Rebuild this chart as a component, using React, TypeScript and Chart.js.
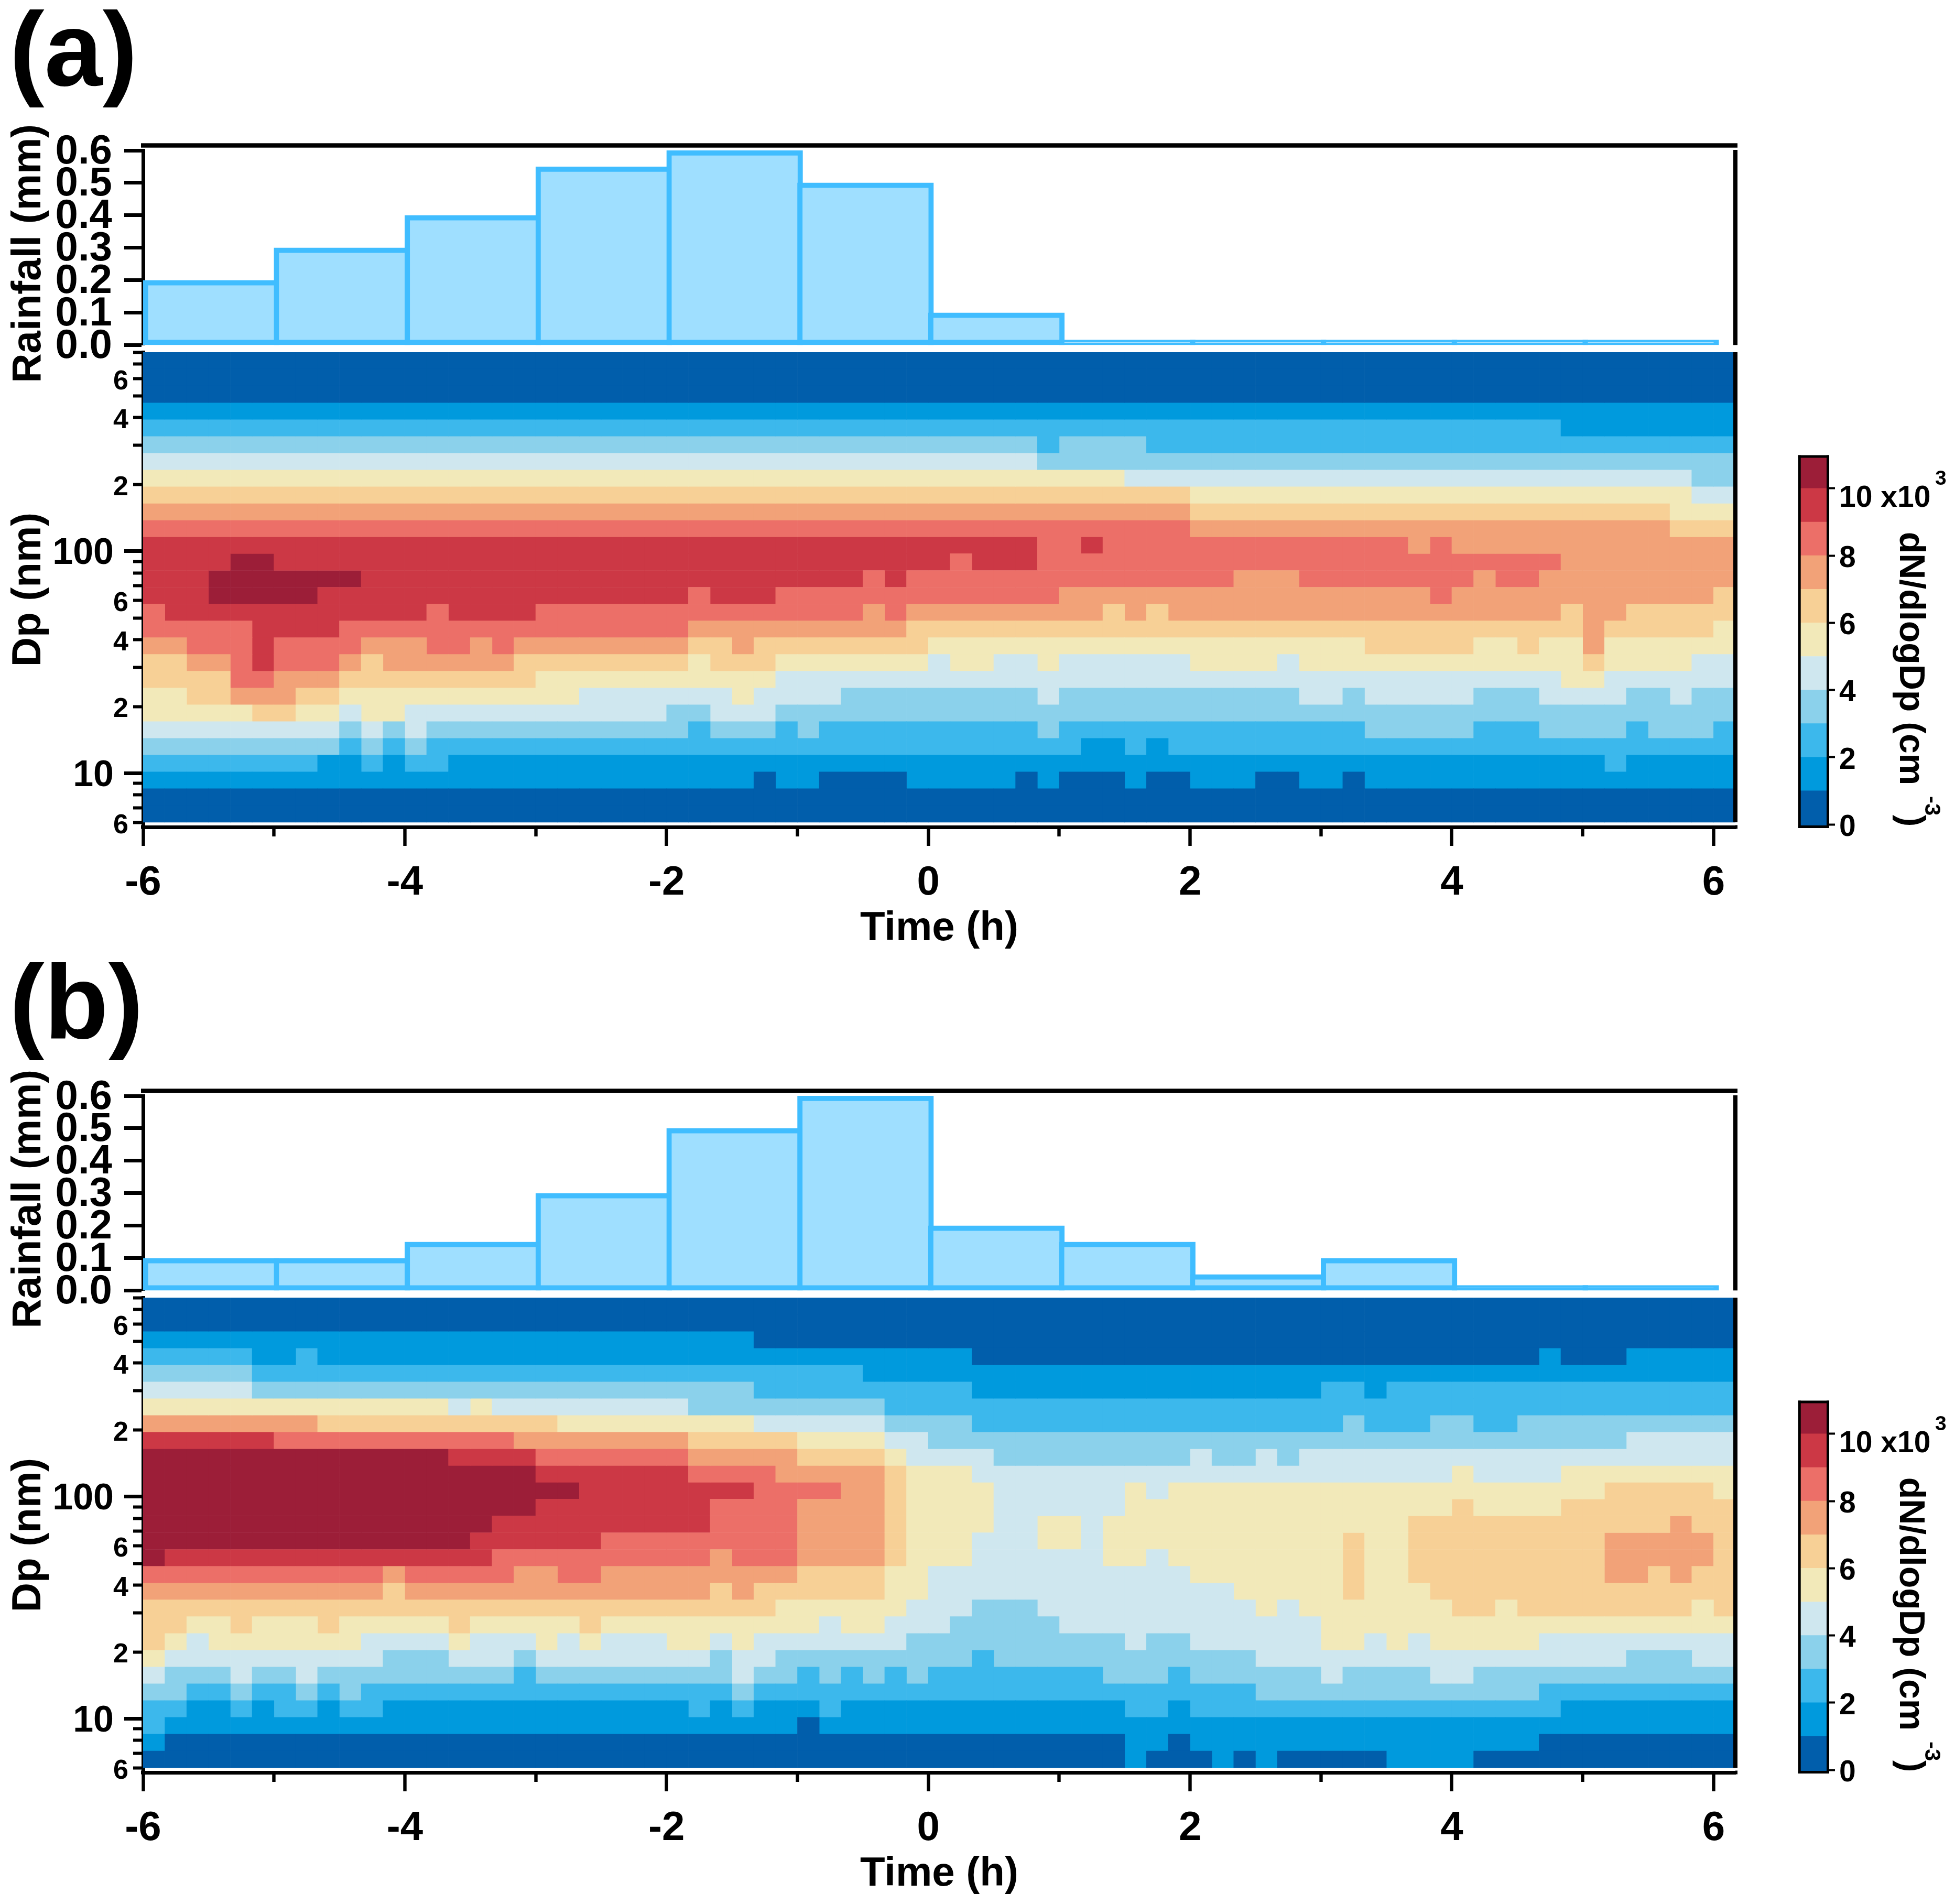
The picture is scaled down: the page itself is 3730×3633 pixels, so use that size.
import React, { useEffect, useRef } from "react";
import { Chart, registerables } from "chart.js";

Chart.register(...registerables);
Chart.defaults.font.family = '"Liberation Sans", Arial, sans-serif';
Chart.defaults.font.weight = "bold";
Chart.defaults.color = "#000";

// ---------- data ----------
const RAIN_HOURS = [-6, -5, -4, -3, -2, -1, 0, 1, 2, 3, 4, 5];
const RAIN_A = [0.2, 0.3, 0.4, 0.55, 0.6, 0.5, 0.1, 0, 0, 0, 0, 0];
const RAIN_B = [0.1, 0.1, 0.15, 0.3, 0.5, 0.6, 0.2, 0.15, 0.05, 0.1, 0, 0];
const RAIN_TICKS = [0, 0.1, 0.2, 0.3, 0.4, 0.5, 0.6];

const TIME_MAJOR = [-6, -4, -2, 0, 2, 4, 6];
const TIME_MINOR = [-5, -3, -1, 1, 3, 5];
const DP_MAJOR = [10, 100];
const DP_MINOR = [6, 7, 8, 9, 20, 30, 40, 50, 60, 70, 80, 90, 200, 300, 400, 500, 600, 700, 789];
const DP_LABELLED: Record<number, string> = { 6: "6", 20: "2", 40: "4", 60: "6", 200: "2", 400: "4", 600: "6" };
const CBAR_TICKS = [0, 2, 4, 6, 8, 10];
const CBAR_EDGES = [-0.07, 1, 2, 3, 4, 5, 6, 7, 8, 9, 10, 10.95];
const LEVEL_COLORS = ["#015EAB", "#009ADD", "#3CB8EC", "#8BD1EB", "#CFE7EF", "#F2E9B9", "#F7D096", "#F2A278", "#EC6F68", "#CC3845", "#9C1E38"];

// Each row (largest Dp first): pairs of colour level (x10^3 cm-3) and the column where that level stops.
const HEAT_A: number[][] = [
  [0, 73], [0, 73], [0, 73], [1, 73],
  [2, 65, 1, 73],
  [3, 41, 2, 42, 3, 46, 2, 73],
  [4, 41, 3, 73],
  [5, 45, 4, 71, 3, 73],
  [6, 48, 5, 71, 4, 73],
  [7, 48, 6, 70, 5, 73],
  [8, 48, 7, 70, 6, 73],
  [9, 41, 8, 43, 9, 44, 8, 58, 7, 59, 8, 60, 7, 73],
  [9, 4, 10, 6, 9, 37, 8, 38, 9, 41, 8, 65, 7, 73],
  [9, 3, 10, 10, 9, 33, 8, 34, 9, 35, 8, 50, 7, 53, 8, 61, 7, 62, 8, 64, 7, 73],
  [9, 3, 10, 8, 9, 25, 8, 26, 9, 29, 8, 42, 7, 59, 8, 60, 7, 72, 6, 73],
  [8, 1, 9, 13, 8, 14, 9, 18, 8, 33, 7, 34, 8, 35, 7, 44, 6, 45, 7, 46, 6, 47, 7, 65, 6, 66, 7, 68, 6, 73],
  [8, 5, 9, 9, 8, 25, 7, 35, 6, 66, 7, 67, 6, 72, 5, 73],
  [7, 2, 8, 5, 9, 6, 8, 10, 7, 13, 8, 15, 7, 16, 8, 17, 7, 25, 6, 27, 7, 28, 6, 36, 5, 56, 6, 61, 5, 63, 6, 64, 5, 66, 7, 67, 5, 73],
  [6, 2, 7, 4, 8, 5, 9, 6, 8, 9, 7, 10, 6, 11, 7, 17, 6, 25, 5, 26, 6, 29, 5, 36, 4, 37, 5, 39, 4, 41, 5, 42, 4, 48, 5, 52, 4, 53, 5, 66, 6, 67, 5, 71, 4, 73],
  [6, 4, 8, 6, 7, 9, 6, 18, 5, 29, 4, 65, 5, 67, 4, 73],
  [5, 2, 6, 4, 7, 7, 6, 9, 5, 20, 4, 27, 5, 28, 4, 32, 3, 41, 4, 42, 3, 53, 4, 55, 3, 56, 4, 61, 3, 64, 4, 68, 3, 70, 4, 71, 3, 73],
  [5, 5, 6, 7, 5, 9, 4, 10, 5, 12, 4, 24, 3, 26, 4, 29, 3, 73],
  [4, 9, 3, 10, 4, 11, 3, 12, 4, 13, 3, 25, 2, 26, 3, 29, 2, 30, 3, 31, 2, 41, 3, 42, 2, 56, 3, 61, 2, 64, 3, 68, 2, 69, 3, 72, 2, 73],
  [3, 9, 2, 10, 3, 11, 2, 12, 3, 13, 2, 43, 1, 45, 2, 46, 1, 47, 2, 73],
  [2, 8, 1, 10, 2, 11, 1, 12, 2, 14, 1, 67, 2, 68, 1, 73],
  [1, 28, 0, 29, 1, 31, 0, 35, 1, 40, 0, 41, 1, 42, 0, 45, 1, 46, 0, 48, 1, 51, 0, 53, 1, 55, 0, 56, 1, 73],
  [0, 73], [0, 73],
];

const HEAT_B: number[][] = [
  [0, 73], [0, 73],
  [1, 28, 0, 73],
  [2, 5, 1, 7, 2, 8, 1, 38, 0, 64, 1, 65, 0, 68, 1, 73],
  [3, 5, 2, 33, 1, 73],
  [4, 5, 3, 28, 2, 38, 1, 54, 2, 56, 1, 57, 2, 73],
  [5, 14, 4, 15, 5, 16, 4, 25, 3, 34, 2, 73],
  [7, 8, 6, 19, 5, 28, 4, 34, 3, 38, 2, 55, 3, 56, 2, 59, 3, 61, 2, 63, 3, 73],
  [9, 6, 8, 17, 7, 25, 6, 30, 5, 34, 4, 36, 3, 68, 4, 73],
  [10, 14, 9, 18, 8, 25, 7, 30, 6, 34, 5, 35, 4, 39, 3, 48, 4, 49, 3, 51, 4, 52, 3, 53, 4, 73],
  [10, 18, 9, 25, 8, 29, 7, 34, 6, 35, 5, 38, 4, 60, 5, 61, 4, 65, 5, 73],
  [10, 20, 9, 28, 8, 32, 7, 34, 6, 35, 5, 39, 4, 45, 5, 46, 4, 47, 5, 67, 6, 72, 5, 73],
  [10, 18, 9, 26, 8, 30, 7, 34, 6, 35, 5, 39, 4, 45, 5, 60, 6, 61, 5, 65, 6, 73],
  [10, 16, 9, 26, 8, 30, 7, 34, 6, 35, 5, 39, 4, 41, 5, 43, 4, 44, 5, 58, 6, 70, 7, 71, 6, 73],
  [10, 15, 9, 21, 8, 30, 7, 34, 6, 35, 5, 38, 4, 41, 5, 43, 4, 44, 5, 55, 6, 56, 5, 58, 6, 67, 7, 72, 6, 73],
  [10, 1, 9, 16, 8, 26, 7, 27, 8, 30, 7, 34, 6, 35, 5, 38, 4, 44, 5, 46, 4, 47, 5, 55, 6, 56, 5, 58, 6, 67, 7, 72, 6, 73],
  [8, 11, 7, 12, 8, 17, 7, 19, 8, 21, 7, 30, 6, 34, 5, 36, 4, 48, 5, 55, 6, 56, 5, 58, 6, 67, 7, 69, 6, 70, 7, 71, 6, 73],
  [7, 11, 6, 12, 7, 26, 6, 27, 7, 28, 6, 34, 5, 36, 4, 50, 5, 55, 6, 56, 5, 59, 6, 73],
  [6, 29, 5, 35, 4, 38, 3, 41, 4, 51, 5, 52, 4, 53, 5, 60, 6, 62, 5, 63, 6, 71, 5, 72, 6, 73],
  [6, 2, 5, 4, 6, 5, 5, 8, 6, 9, 5, 14, 6, 15, 5, 20, 6, 21, 5, 31, 4, 32, 5, 34, 4, 37, 3, 42, 4, 54, 5, 73],
  [6, 1, 5, 2, 4, 3, 5, 10, 4, 14, 5, 15, 4, 18, 5, 19, 4, 20, 5, 21, 4, 24, 5, 26, 4, 27, 5, 28, 4, 35, 3, 45, 4, 46, 3, 48, 4, 54, 5, 56, 4, 57, 5, 58, 4, 59, 5, 64, 4, 73],
  [5, 1, 4, 11, 3, 14, 4, 17, 3, 18, 4, 26, 3, 27, 4, 29, 3, 38, 2, 39, 3, 51, 4, 68, 3, 71, 4, 73],
  [4, 1, 3, 4, 4, 5, 3, 7, 4, 8, 3, 17, 2, 18, 3, 27, 4, 28, 3, 30, 2, 31, 3, 32, 2, 33, 3, 34, 2, 35, 3, 36, 2, 44, 3, 47, 2, 48, 3, 54, 4, 55, 3, 59, 4, 61, 3, 73],
  [3, 2, 2, 4, 3, 5, 2, 7, 3, 8, 2, 9, 3, 10, 2, 27, 3, 28, 2, 51, 3, 64, 2, 73],
  [2, 2, 1, 4, 2, 5, 1, 6, 2, 8, 1, 9, 2, 11, 1, 25, 2, 26, 1, 27, 2, 28, 1, 31, 2, 32, 1, 45, 2, 47, 1, 48, 2, 65, 1, 73],
  [2, 1, 1, 30, 0, 31, 1, 73],
  [1, 1, 0, 45, 1, 47, 0, 48, 1, 64, 0, 73],
  [0, 45, 1, 46, 0, 49, 1, 50, 0, 51, 1, 52, 0, 57, 1, 61, 0, 73],
];

// ---------- layout ----------
const PANEL_DY = 1804;
const AREA_L = 273;
const AREA_R = 3311;
const HOUR_PX = 249.7;
const COL_PX = (AREA_R - AREA_L) / 73;
const X_MIN = -6;
const X_MAX = 6 + 1 / 6;
const DP_LOW = 6.015;
const DP_HIGH = 789;
const DP_AXIS_MIN = 5.728;
const BLUE_LINE = "#40BDFF";
const BLUE_FILL = "#9FDFFF";

const zeroPadding = (s: any) => {
  s.paddingTop = 0; s.paddingBottom = 0; s.paddingLeft = 0; s.paddingRight = 0;
  // Overlaid axes have a zero-sized box: keep their labels from being clipped to it.
  s._computeLabelArea = () => undefined;
};
// Moves the tick labels of a vertical axis down by dy(label) pixels.
const shiftLabels = (s: any, dy?: (label: any) => number) => {
  if (!dy || s._labelsShifted) return;
  const compute = s._computeLabelItems;
  s._computeLabelItems = function (area: any) {
    const items = compute.call(this, area);
    items.forEach((it: any) => { it.textOffset += dy(it.label); });
    return items;
  };
  s._labelsShifted = true;
};
const fitW = (w: number, dy?: (label: any) => number) => (s: any) => { s.width = w; zeroPadding(s); shiftLabels(s, dy); };
const fitH = (h: number) => (s: any) => { s.height = h; zeroPadding(s); };
const setTicks = (vals: number[]) => (s: any) => { s.ticks = vals.map((value) => ({ value })); };

const rectsPlugin = (rects: number[][], top: number) => ({
  id: "frameRects",
  afterDraw(chart: any) {
    const ctx = chart.ctx;
    ctx.save();
    ctx.fillStyle = "#000";
    rects.forEach(([x, y, w, h]) => ctx.fillRect(x, y - top, w, h));
    ctx.restore();
  },
});

// Superscripts of the colour bar: "3" of x10^3 and "-3" of cm^-3.
const superscriptPlugin = (left: number, top: number) => ({
  id: "cbarSuperscripts",
  afterDraw(chart: any) {
    const ctx = chart.ctx;
    ctx.save();
    ctx.fillStyle = "#000";
    ctx.textAlign = "left";
    ctx.textBaseline = "alphabetic";
    ctx.font = 'bold 39px "Liberation Sans", Arial, sans-serif';
    ctx.fillText("3", 3692 - left, 925 - top);
    ctx.translate(3673 - left, 1519 - top);
    ctx.rotate(Math.PI / 2);
    ctx.font = 'bold 42px "Liberation Sans", Arial, sans-serif';
    ctx.fillText("-3", 0, 0);
    ctx.restore();
  },
});

function rainConfig(values: number[], canvasTop: number, frameY: number): any {
  return {
    type: "bar",
    data: {
      datasets: [{
        data: RAIN_HOURS.map((h, i) => ({ x: h + 0.5 + 5 / HOUR_PX, y: values[i] })),
        backgroundColor: BLUE_FILL,
        borderColor: BLUE_LINE,
        borderWidth: 10,
        borderSkipped: false,
        barThickness: HOUR_PX + 10,
        minBarLength: 10,
        grouped: false,
      }],
    },
    options: {
      animation: false, responsive: false, devicePixelRatio: 1,
      layout: { padding: { left: 0, right: 3400 - AREA_R, top: 87, bottom: 101.3 } },
      plugins: { legend: { display: false }, tooltip: { enabled: false } },
      scales: {
        x: { type: "linear", display: false, min: X_MIN, max: X_MAX, offset: false, grid: { offset: false } },
        y: {
          type: "linear", position: "left", min: 0, max: 0.6, beginAtZero: false,
          afterBuildTicks: setTicks(RAIN_TICKS), afterFit: fitW(AREA_L, () => 3),
          border: { color: "#000", width: 7 },
          grid: { drawOnChartArea: false, tickLength: 36, tickWidth: 7, tickColor: "#000" },
          ticks: { autoSkip: false, padding: 23, font: { size: 78, weight: "bold" }, callback: (v: number) => v.toFixed(1) },
          title: { display: true, text: "Rainfall (mm) ", font: { size: 78, weight: "bold" }, padding: { top: 9, bottom: 0 } },
        },
      },
    },
    plugins: [rectsPlugin([[269, 273.3 + frameY, 3315 - 269, 8.4], [3307, 286 + frameY, 8, 372.3]], canvasTop)],
  };
}

function heatConfig(rows: number[][], canvasTop: number, frameY: number): any {
  const edge = (i: number) => DP_LOW * Math.pow(DP_HIGH / DP_LOW, i / rows.length);
  const cells: any[][] = LEVEL_COLORS.map(() => []);
  rows.forEach((runs, r) => {
    const lo = edge(rows.length - 1 - r);
    const hi = edge(rows.length - r);
    let col = 0;
    for (let i = 0; i < runs.length; i += 2) {
      for (; col < runs[i + 1]; col++) {
        cells[runs[i]].push({ x: X_MIN + (col + 0.5) / 6, y: [lo, hi] });
      }
    }
  });
  return {
    type: "bar",
    data: {
      datasets: cells.map((data, level) => ({
        label: String(level), data, backgroundColor: LEVEL_COLORS[level],
        barThickness: COL_PX, grouped: false, xAxisID: "x", yAxisID: "y",
      })),
    },
    options: {
      animation: false, responsive: false, devicePixelRatio: 1,
      layout: { padding: { left: 0, right: 3400 - AREA_R, top: 32, bottom: 81 } },
      plugins: { legend: { display: false }, tooltip: { enabled: false } },
      scales: {
        x: {
          type: "linear", position: "bottom", weight: 1, min: X_MIN, max: X_MAX, offset: false,
          afterBuildTicks: setTicks(TIME_MAJOR), afterFit: fitH(241),
          border: { color: "#000", width: 7 },
          grid: { offset: false, drawOnChartArea: false, tickLength: 36, tickWidth: 6.4, tickColor: "#000" },
          ticks: { autoSkip: false, maxRotation: 0, padding: 25, font: { size: 78, weight: "bold" }, callback: (v: number) => String(v) },
          title: { display: true, text: "Time (h)", font: { size: 78, weight: "bold" }, padding: { top: 0, bottom: 0 } },
        },
        x2: {
          axis: "x", type: "linear", position: "bottom", weight: 0, min: X_MIN, max: X_MAX, offset: false,
          afterBuildTicks: setTicks(TIME_MINOR), afterFit: fitH(0),
          border: { display: false },
          grid: { offset: false, drawOnChartArea: false, tickLength: 18, tickWidth: 6.4, tickColor: "#000" },
          ticks: { autoSkip: false, maxRotation: 0, callback: () => "" },
        },
        y: {
          type: "logarithmic", position: "left", weight: 1, min: DP_AXIS_MIN, max: DP_HIGH,
          afterBuildTicks: setTicks(DP_MAJOR), afterFit: fitW(AREA_L, () => 5),
          border: { color: "#000", width: 7 },
          grid: { drawOnChartArea: false, tickLength: 36, tickWidth: 7, tickColor: "#000" },
          ticks: { autoSkip: false, padding: 20, font: { size: 70, weight: "bold" }, callback: (v: number) => String(v) },
          title: { display: true, text: "Dp (nm)", font: { size: 78, weight: "bold" }, padding: { top: 9, bottom: 0 } },
        },
        y2: {
          axis: "y", type: "logarithmic", position: "left", weight: 0, min: DP_AXIS_MIN, max: DP_HIGH,
          afterBuildTicks: setTicks(DP_MINOR), afterFit: fitW(0, () => 6),
          border: { display: false },
          grid: { drawOnChartArea: false, tickLength: 19, tickWidth: 6, tickColor: "#000" },
          ticks: { autoSkip: false, padding: 9, font: { size: 52, weight: "bold" }, callback: (v: number) => DP_LABELLED[v] ?? "" },
        },
      },
    },
    plugins: [rectsPlugin([[3307, 672 + frameY, 8, 897], [3311, 1574.5 + frameY, 4, 7], [269, 1574.5 + frameY, 4, 7]], canvasTop)],
  };
}

function cbarConfig(canvasLeft: number, canvasTop: number, frameY: number): any {
  return {
    type: "bar",
    data: {
      labels: [""],
      datasets: LEVEL_COLORS.map((c, i) => ({
        data: [[CBAR_EDGES[i], CBAR_EDGES[i + 1]]],
        backgroundColor: c, barPercentage: 1, categoryPercentage: 1, grouped: false,
      })),
    },
    options: {
      animation: false, responsive: false, devicePixelRatio: 1,
      layout: { padding: { left: 33, right: 0, top: 51, bottom: 62.5 } },
      plugins: { legend: { display: false }, tooltip: { enabled: false } },
      scales: {
        x: { display: false },
        y: {
          type: "linear", position: "right", min: -0.07, max: 10.95, beginAtZero: false,
          afterBuildTicks: setTicks(CBAR_TICKS), afterFit: fitW(242, (label) => (label === "10 x10" ? 19 : 6)),
          border: { display: false },
          grid: { drawOnChartArea: false, tickLength: 13, tickWidth: 4, tickColor: "#000" },
          ticks: { autoSkip: false, padding: 8, font: { size: 57, weight: "bold" }, callback: (v: number) => (v === 10 ? "10 x10" : String(v)) },
          title: { display: true, text: "dN/dlogDp (cm   )", align: "start", font: { size: 68, weight: "bold" }, padding: { top: 45, bottom: 0 } },
        },
      },
    },
    plugins: [
      rectsPlugin([
        [3430.7, 868.5 + frameY, 59.3, 5], [3430.7, 1575 + frameY, 59.3, 5],
        [3430.7, 868.5 + frameY, 5, 711.5], [3485, 868.5 + frameY, 5, 711.5],
      ].map(([x, y, w, h]) => [x - canvasLeft, y, w, h]), canvasTop),
      superscriptPlugin(canvasLeft, canvasTop - frameY),
    ],
  };
}

function Panel({ left, top, width, height, config }: any) {
  const ref = useRef<HTMLCanvasElement>(null);
  useEffect(() => {
    const chart = new Chart(ref.current as HTMLCanvasElement, config);
    return () => chart.destroy();
  }, []);
  return (
    <canvas ref={ref} width={width} height={height}
      style={{ position: "absolute", left, top, width, height, display: "block" }} />
  );
}

function Letter({ text, top }: { text: string; top: number }) {
  return (
    <div style={{
      position: "absolute", left: 18, top, font: 'bold 200px/200px "Liberation Sans", Arial, sans-serif', color: "#000",
    }}>{text}</div>
  );
}

export default function App() {
  return (
    <div style={{ position: "absolute", left: 0, top: 0, width: 3730, height: 3633, background: "#fff", overflow: "hidden" }}>
      <Letter text="(a)" top={-6} />
      <Letter text="(b)" top={1812} />
      <Panel left={0} top={200} width={3400} height={560} config={rainConfig(RAIN_A, 200, 0)} />
      <Panel left={0} top={640} width={3400} height={1260} config={heatConfig(HEAT_A, 640, 0)} />
      <Panel left={3400} top={820} width={330} height={820} config={cbarConfig(3400, 820, 0)} />
      <Panel left={0} top={200 + PANEL_DY} width={3400} height={560} config={rainConfig(RAIN_B, 200 + PANEL_DY, PANEL_DY)} />
      <Panel left={0} top={640 + PANEL_DY} width={3400} height={1260} config={heatConfig(HEAT_B, 640 + PANEL_DY, PANEL_DY)} />
      <Panel left={3400} top={820 + PANEL_DY} width={330} height={820} config={cbarConfig(3400, 820 + PANEL_DY, PANEL_DY)} />
    </div>
  );
}
